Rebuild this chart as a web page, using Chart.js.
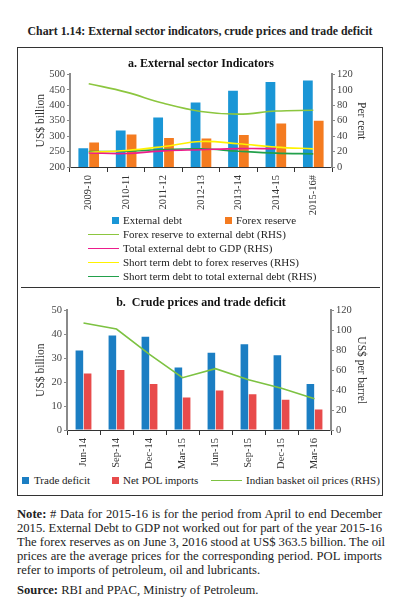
<!DOCTYPE html>
<html>
<head>
<meta charset="utf-8">
<script src="https://cdn.jsdelivr.net/npm/chart.js@4.4.1/dist/chart.umd.min.js"></script>
<style>
  body { margin: 0; width: 400px; height: 608px; background: #fff; position: relative;
         font-family: "Liberation Serif", serif; color: #222; overflow: hidden; }
  #heading { position: absolute; top: 24px; left: 0; width: 400px; text-align: center;
             font-weight: bold; font-size: 11.8px; }
  #box { position: absolute; left: 17px; top: 47px; width: 364px; height: 447px; border: 1px solid #333; }
  #divider { position: absolute; left: 21px; width: 359px; top: 287px; border-top: 1px solid #333; }
  .chartBox { position: absolute; }
  .lg { position: absolute; font-size: 11px; white-space: nowrap; line-height: 12px; }
  .lg .sw { position: absolute; }
  #note { position: absolute; left: 17px; top: 507px; width: 365px; font-size: 12.6px; line-height: 14px; }
  #note div { text-align: justify; text-align-last: justify; white-space: nowrap; }
  #note div.last { text-align-last: left; }
  #source { position: absolute; left: 17px; top: 583px; font-size: 12.6px; }
</style>
</head>
<body>
<div id="heading">Chart 1.14: External sector indicators, crude prices and trade deficit</div>
<div id="box"></div>
<div id="divider"></div>
<div class="chartBox" style="left:18px; top:55px; width:363px; height:163px;"><canvas id="sectorChart"></canvas></div>
<div class="chartBox" style="left:18px; top:292px; width:363px; height:180px;"><canvas id="crudeChart"></canvas></div>
<div id="legends"></div>
<div id="note">
  <div><b>Note:</b> # Data for 2015-16 is for the period from April to end December</div>
  <div>2015. External Debt to GDP not worked out for part of the year 2015-16</div>
  <div>The forex reserves as on June 3, 2016 stood at US$ 363.5 billion. The oil</div>
  <div>prices are the average prices for the corresponding period. POL imports</div>
  <div class="last">refer to imports of petroleum, oil and lubricants.</div>
</div>
<div id="source"><b>Source:</b> RBI and PPAC, Ministry of Petroleum.</div>
<script>
// Panel a: external sector indicators
const sectorYears = ['2009-10', '2010-11', '2011-12', '2012-13', '2013-14', '2014-15', '2015-16#'];
const externalDebt = [261, 318, 360, 409, 447, 475, 480];   // US$ billion
const forexReserve = [279, 305, 294, 292, 304, 341, 350];   // US$ billion
const forexToDebt = [108, 97, 82.5, 72, 68.5, 72.5, 73.5];  // per cent (RHS)
const debtToGdp = [18.2, 17.5, 20.9, 22.4, 23.8, 23.8, null];
const shortToForex = [18.8, 21.3, 26.6, 33.1, 30.1, 25.8, 23.5];
const shortToDebt = [20.1, 20.4, 22.6, 23.6, 20.5, 18.0, 17.0];

// Panel b: crude prices and trade deficit
const quarters = ['Jun-14', 'Sep-14', 'Dec-14', 'Mar-15', 'Jun-15', 'Sep-15', 'Dec-15', 'Mar-16'];
const tradeDeficit = [33.2, 39.5, 39.0, 26.1, 32.3, 35.8, 31.3, 19.2];  // US$ billion
const netPolImports = [23.6, 25.1, 19.2, 13.6, 16.5, 14.9, 12.6, 8.6];  // US$ billion
const oilPrice = [107.3, 101.3, 75.9, 52.5, 61.5, 50.5, 41.8, 31.4];    // US$ per barrel (RHS)

const serif = '"Liberation Serif", serif';
const tickFont = { family: serif, size: 10.5 };
const axisGrey = '#8a8a8a';

// fixed axis widths/heights so the plot area lands where the original has it
function yAxis(pos, min, max, step, title, width) {
  return {
    position: pos, min: min, max: max,
    ticks: { stepSize: step, font: tickFont, color: '#444', padding: 2, autoSkip: false },
    grid: { drawOnChartArea: false, drawTicks: true, tickLength: 3, color: axisGrey },
    border: { color: axisGrey, width: 2 },
    title: { display: true, text: title, font: { family: serif, size: 11.5 }, color: '#333', padding: 2 },
    afterFit: s => { s.width = width; }
  };
}
function xAxis(height) {
  return {
    offset: true,
    ticks: { font: tickFont, color: '#333', minRotation: 90, maxRotation: 90, padding: 3, autoSkip: false },
    grid: { offset: true, drawOnChartArea: false, tickLength: 5, color: '#333' },
    border: { color: '#333', width: 1 },
    afterFit: s => { s.height = height; }
  };
}
function titleOpt(text, top, bottom) {
  return { display: true, text: text, color: '#111', font: { family: serif, size: 12, weight: 'bold', lineHeight: 1.2 },
           padding: { top: top, bottom: bottom } };
}

const sectorSets = [
  { type: 'bar', label: 'External debt', data: externalDebt, backgroundColor: '#1a96d6', yAxisID: 'y', order: 1 },
  { type: 'bar', label: 'Forex reserve', data: forexReserve, backgroundColor: '#f47b20', yAxisID: 'y', order: 1 },
  { type: 'line', label: 'Forex reserve to external debt (RHS)', data: forexToDebt, borderColor: '#8cc63f', yAxisID: 'y1' },
  { type: 'line', label: 'Total external debt to GDP (RHS)', data: debtToGdp, borderColor: '#ec1c8c', yAxisID: 'y1' },
  { type: 'line', label: 'Short term debt to forex reserves (RHS)', data: shortToForex, borderColor: '#fff200', yAxisID: 'y1' },
  { type: 'line', label: 'Short term debt to total external debt (RHS)', data: shortToDebt, borderColor: '#22a04b', yAxisID: 'y1' }
];
sectorSets.forEach(d => {
  if (d.type === 'bar') { d.categoryPercentage = 0.58; d.barPercentage = 0.9; }
  else { d.borderWidth = 1.6; d.pointRadius = 0; d.tension = 0.4; d.order = 0; }
});

new Chart(document.getElementById('sectorChart'), {
  data: { labels: sectorYears, datasets: sectorSets },
  options: {
    responsive: true, maintainAspectRatio: false, animation: false,
    layout: { padding: { left: 14, right: 11, top: 0, bottom: 0 } },
    plugins: { legend: { display: false }, tooltip: { enabled: false }, title: titleOpt('a. External sector Indicators', 2, 3) },
    scales: { x: xAxis(51), y: yAxis('left', 200, 500, 50, 'US$ billion', 38), y1: yAxis('right', 0, 120, 20, 'Per cent', 38) }
  }
});

const crudeSets = [
  { type: 'bar', label: 'Trade deficit', data: tradeDeficit, backgroundColor: '#1b7ec3', yAxisID: 'y', order: 1 },
  { type: 'bar', label: 'Net POL imports', data: netPolImports, backgroundColor: '#e84b4b', yAxisID: 'y', order: 1 },
  { type: 'line', label: 'Indian basket oil prices (RHS)', data: oilPrice, borderColor: '#7dc242', yAxisID: 'y1',
    borderWidth: 1.6, pointRadius: 0, tension: 0, order: 0 }
];
crudeSets.forEach(d => { if (d.type === 'bar') { d.categoryPercentage = 0.5; d.barPercentage = 0.92; } });

new Chart(document.getElementById('crudeChart'), {
  data: { labels: quarters, datasets: crudeSets },
  options: {
    responsive: true, maintainAspectRatio: false, animation: false,
    layout: { padding: { left: 14, right: 11, top: 0, bottom: 0 } },
    plugins: { legend: { display: false }, tooltip: { enabled: false }, title: titleOpt('b.  Crude prices and trade deficit', 4, 0) },
    scales: { x: xAxis(42), y: yAxis('left', 0, 50, 10, 'US$ billion', 35), y1: yAxis('right', 0, 120, 20, 'US$ per barrel', 39) }
  }
});

// Hand-placed legends, labels and colours taken from the datasets
const legends = document.getElementById('legends');
function addLegend(ds, x, y, textX) {
  const item = document.createElement('div');
  item.className = 'lg';
  item.style.left = textX + 'px';
  item.style.top = (y - 6) + 'px';
  item.textContent = ds.label;
  const sw = document.createElement('div');
  sw.className = 'sw';
  if (ds.type === 'bar') {
    sw.style.cssText = `left:${x - textX}px; top:3px; width:7px; height:7px; background:${ds.backgroundColor}`;
  } else {
    sw.style.cssText = `left:${x - textX}px; top:6px; width:31px; height:0; border-top:1.5px solid ${ds.borderColor}`;
  }
  item.appendChild(sw);
  legends.appendChild(item);
}
addLegend(sectorSets[0], 112, 220, 123);
addLegend(sectorSets[1], 225, 220, 236);
addLegend(sectorSets[2], 88, 234, 123);
addLegend(sectorSets[3], 88, 248, 123);
addLegend(sectorSets[4], 88, 262, 123);
addLegend(sectorSets[5], 88, 276, 123);
addLegend(crudeSets[0], 22, 480, 34);
addLegend(crudeSets[1], 112, 480, 123);
addLegend(crudeSets[2], 211, 480, 246);
</script>
</body>
</html>
